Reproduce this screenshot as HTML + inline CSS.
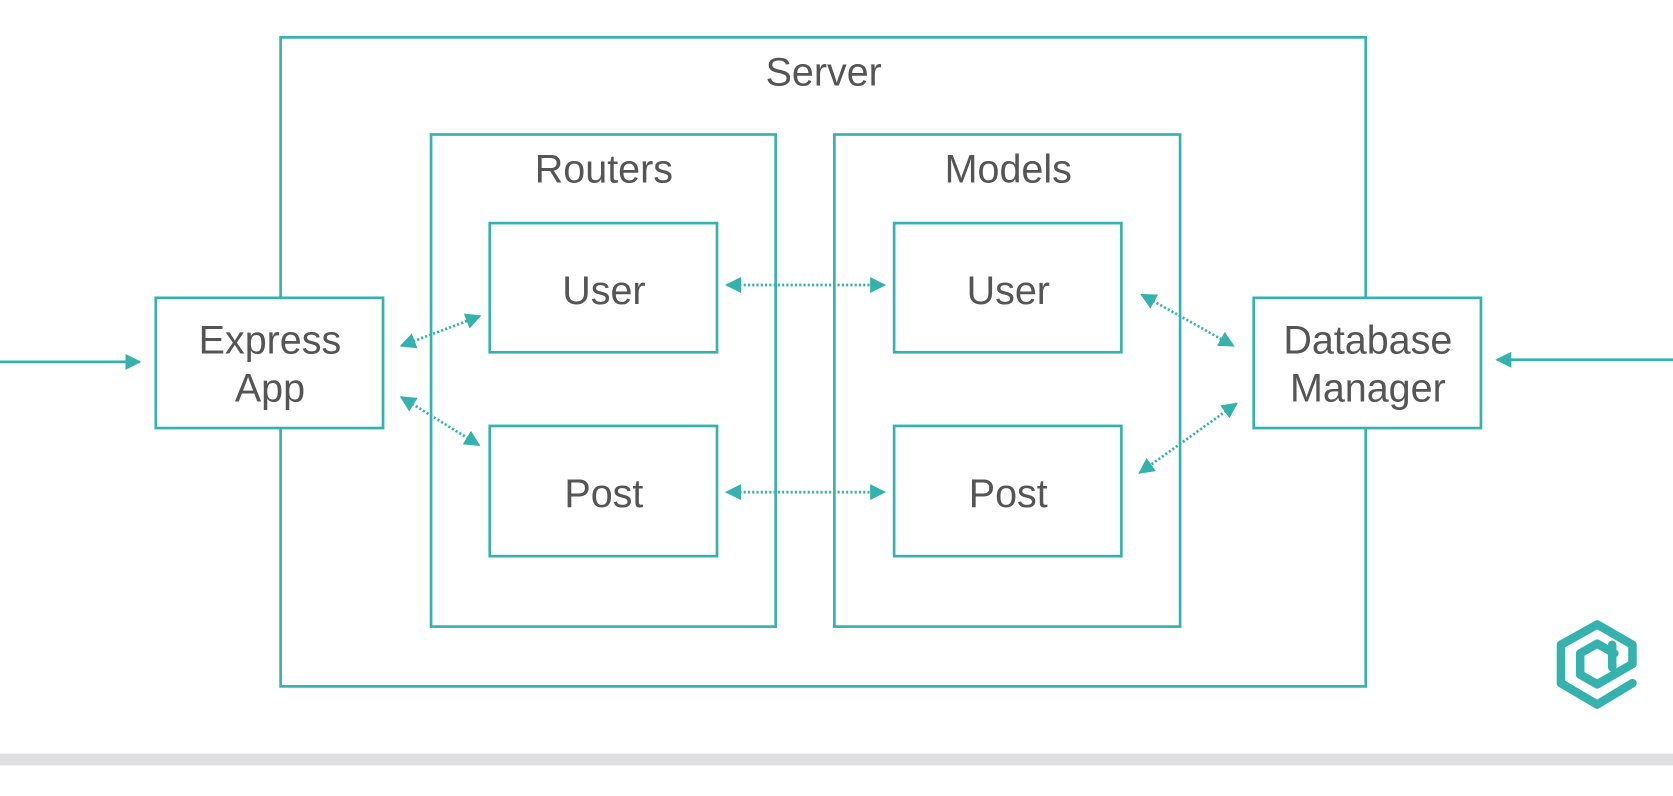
<!DOCTYPE html>
<html><head><style>html,body{margin:0;padding:0;background:#fff;overflow:hidden}</style></head>
<body>
<svg width="1673" height="791" viewBox="0 0 1568 741" preserveAspectRatio="none" xmlns="http://www.w3.org/2000/svg">
<defs>
<marker id="a" viewBox="0 0 10 10" refX="9" refY="5" markerWidth="6" markerHeight="6" orient="auto-start-reverse" markerUnits="strokeWidth"><path d="M0,0 L10,5 L0,10 z" fill="#36b2ae"/></marker>
<marker id="b" viewBox="0 0 10 10" refX="9" refY="5" markerWidth="6" markerHeight="6" orient="auto-start-reverse" markerUnits="strokeWidth"><path d="M0,0 L10,5 L0,10 z" fill="#36b2ae"/></marker>
</defs>
<g fill="none" stroke="#36b2ae" stroke-width="2.5">
<rect x="263" y="35" width="1017" height="608"/>
<rect x="404" y="126" width="323" height="461"/>
<rect x="782" y="126" width="324" height="461"/>
<rect x="459" y="209" width="213" height="121"/>
<rect x="459" y="399" width="213" height="122"/>
<rect x="838" y="209" width="213" height="121"/>
<rect x="838" y="399" width="213" height="122"/>
<rect x="146" y="279" width="213" height="122" fill="#fff"/>
<rect x="1175" y="279" width="213" height="122" fill="#fff"/>
<line x1="0" y1="339" x2="131" y2="339" marker-end="url(#a)"/>
<line x1="1568" y1="337" x2="1403" y2="337" marker-end="url(#a)"/>
</g>
<g fill="none" stroke="#36b2ae" stroke-width="2.5" stroke-dasharray="2 2">
<line x1="681" y1="267" x2="829" y2="267" marker-start="url(#b)" marker-end="url(#b)"/>
<line x1="681" y1="461" x2="829" y2="461" marker-start="url(#b)" marker-end="url(#b)"/>
<line x1="376" y1="324" x2="450" y2="296" marker-start="url(#b)" marker-end="url(#b)"/>
<line x1="376" y1="372" x2="449" y2="417" marker-start="url(#b)" marker-end="url(#b)"/>
<line x1="1070" y1="276" x2="1156" y2="324" marker-start="url(#b)" marker-end="url(#b)"/>
<line x1="1159" y1="378" x2="1068" y2="443" marker-start="url(#b)" marker-end="url(#b)"/>
</g>
<g font-family="Liberation Sans, sans-serif" font-size="37" fill="#555" text-anchor="middle">
<text x="772" y="80">Server</text>
<text x="566" y="171">Routers</text>
<text x="945" y="171">Models</text>
<text x="566" y="285">User</text>
<text x="566" y="475">Post</text>
<text x="945" y="285">User</text>
<text x="945" y="475">Post</text>
<text x="253" y="331">Express</text>
<text x="253" y="376">App</text>
<text x="1282" y="331">Database</text>
<text x="1282" y="376">Manager</text>
</g>
<g fill="none" stroke="#36b2ae" stroke-width="8" stroke-linecap="round" stroke-linejoin="round">
<path d="M1530,640 L1497,660 L1463,640 L1463,604 L1497,585 L1530,604 L1530,622 L1497,641 L1481,632 L1481,612 L1497,603 L1513,612"/>
<path d="M1511,604 L1511,625"/>
</g>
<rect x="0" y="706" width="1568" height="11" fill="#e0e0e2"/>
</svg>
</body></html>
